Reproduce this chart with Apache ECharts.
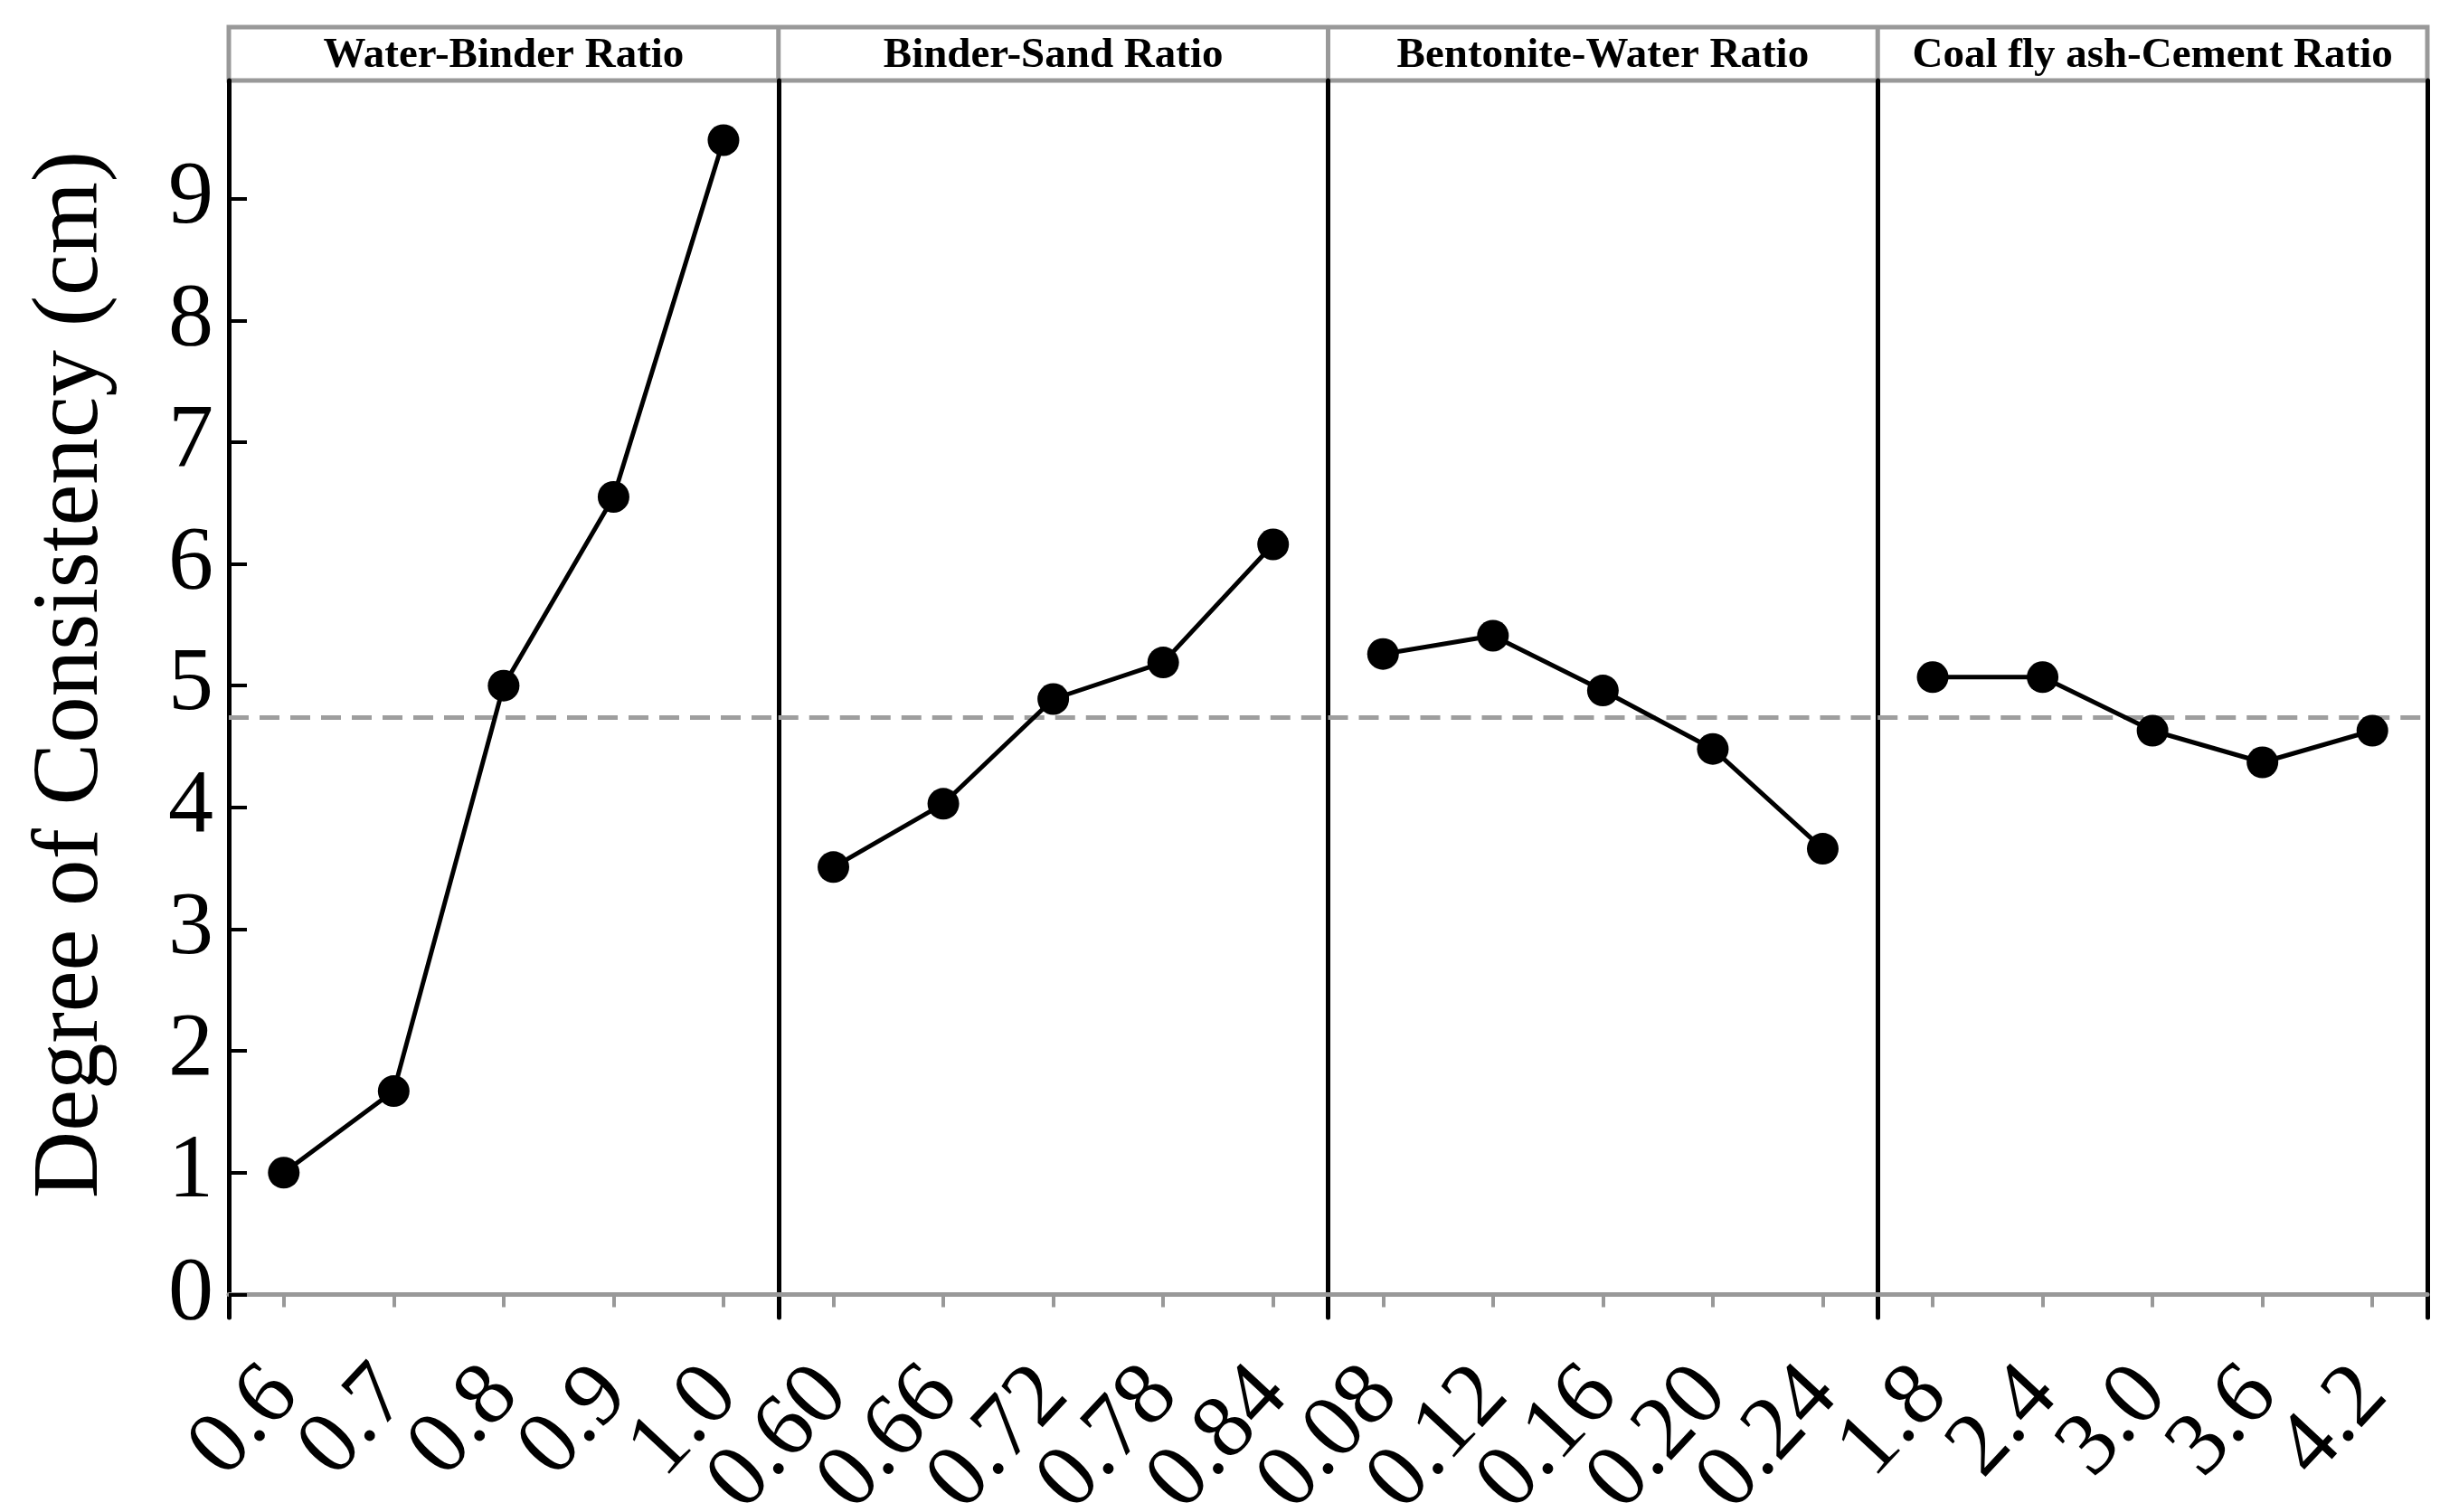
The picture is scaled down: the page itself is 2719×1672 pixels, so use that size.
<!DOCTYPE html>
<html><head><meta charset="utf-8">
<script src="https://cdn.jsdelivr.net/npm/echarts@6/dist/echarts.min.js"></script>
<style>html,body{margin:0;padding:0;background:#fff}#c{width:2719px;height:1672px}</style>
</head><body><div id="c"></div>
<script>
// ---- data ----
const panelTitles = ['Water-Binder Ratio', 'Binder-Sand Ratio', 'Bentonite-Water Ratio', 'Coal fly ash-Cement Ratio'];
const waterBinderLevels = ['0.6', '0.7', '0.8', '0.9', '1.0'];
const binderSandLevels = ['0.60', '0.66', '0.72', '0.78', '0.84'];
const bentoniteWaterLevels = ['0.08', '0.12', '0.16', '0.20', '0.24'];
const flyashCementLevels = ['1.8', '2.4', '3.0', '3.6', '4.2'];
const waterBinderMeans = [1.00, 1.67, 5.00, 6.55, 9.48];
const binderSandMeans = [3.51, 4.03, 4.89, 5.19, 6.16];
const bentoniteWaterMeans = [5.26, 5.41, 4.96, 4.48, 3.66];
const flyashCementMeans = [5.07, 5.07, 4.63, 4.37, 4.63];
const grandMean = 4.74;
const yTickValues = [0, 1, 2, 3, 4, 5, 6, 7, 8, 9];
const yAxisTitle = 'Degree of Consistency (cm)';

// ---- layout ----
const L = 253, R = 2684, TOP = 89, AXY = 1457, HEADTOP = 30;
const PW = (R - L) / 4;
const Y_MIN = -0.19, Y_MAX = 9.97;
const FONT = '"Liberation Serif", "Times New Roman", serif';

const levels = [waterBinderLevels, binderSandLevels, bentoniteWaterLevels, flyashCementLevels];
const means = [waterBinderMeans, binderSandMeans, bentoniteWaterMeans, flyashCementMeans];

const grids = [], xAxes = [], yAxes = [], series = [], graphics = [];
for (let i = 0; i < 4; i++) {
  grids.push({ left: L + i * PW, width: PW, top: TOP, height: AXY - TOP, outerBoundsMode: 'none', containLabel: false });
  xAxes.push({
    type: 'category', gridIndex: i, data: levels[i], boundaryGap: true,
    axisLine: { show: true, lineStyle: { color: '#999999', width: 5 } },
    axisTick: { show: true, alignWithLabel: true, length: 14, lineStyle: { color: '#999999', width: 4 } },
    axisLabel: { interval: 0, rotate: 47, margin: 70, fontSize: 100, fontFamily: FONT, color: '#000', hideOverlap: false },
    splitLine: { show: false }
  });
  const y = {
    type: 'value', gridIndex: i, min: Y_MIN, max: Y_MAX,
    axisLine: { show: true, lineStyle: { color: '#000', width: 5 } },
    splitLine: { show: false },
    axisTick: { show: false },
    axisLabel: { show: false }
  };
  if (i === 0) {
    y.axisTick = { show: true, inside: true, length: 20, customValues: yTickValues, lineStyle: { color: '#000', width: 4 } };
    y.axisLabel = { show: true, customValues: yTickValues, margin: 17, fontSize: 100, fontFamily: FONT, color: '#000' };
    y.name = yAxisTitle;
    y.nameLocation = 'middle';
    y.nameGap = 122;
    y.nameMoveOverlap = false;
    y.nameTextStyle = { fontSize: 103, fontFamily: FONT, color: '#000', padding: [0, 0, 0, 54] };
  }
  yAxes.push(y);
  series.push({
    type: 'line', xAxisIndex: i, yAxisIndex: i, data: means[i],
    symbol: 'circle', symbolSize: 35, showSymbol: true,
    lineStyle: { color: '#000', width: 5 },
    itemStyle: { color: '#000' },
    z: 3,
    markLine: {
      silent: true, symbol: ['none', 'none'], z: 1,
      label: { show: false },
      lineStyle: { color: '#9e9e9e', type: [22, 12], width: 5 },
      data: [{ yAxis: grandMean }]
    },
    animation: false
  });
  graphics.push({
    type: 'text', x: L + (i + 0.5) * PW, y: (HEADTOP + TOP) / 2 + 2,
    style: { text: panelTitles[i], font: 'bold 47px ' + FONT, fill: '#000', align: 'center', verticalAlign: 'middle' }
  });
  if (i > 0) {
    graphics.push({ type: 'line', shape: { x1: L + i * PW, y1: HEADTOP, x2: L + i * PW, y2: TOP }, style: { stroke: '#999999', lineWidth: 5 } });
  }
}
// right border of last panel
yAxes.push({
  type: 'value', gridIndex: 3, min: Y_MIN, max: Y_MAX, position: 'right',
  axisLine: { show: true, lineStyle: { color: '#000', width: 5 } },
  splitLine: { show: false }, axisTick: { show: false }, axisLabel: { show: false }
});
graphics.unshift({ type: 'rect', shape: { x: L, y: HEADTOP, width: R - L, height: TOP - HEADTOP }, style: { fill: 'none', stroke: '#999999', lineWidth: 5 } });

const chart = echarts.init(document.getElementById('c'), null, { renderer: 'canvas' });
chart.setOption({
  backgroundColor: '#ffffff',
  animation: false,
  grid: grids, xAxis: xAxes, yAxis: yAxes, series: series,
  graphic: graphics
});
</script></body></html>
